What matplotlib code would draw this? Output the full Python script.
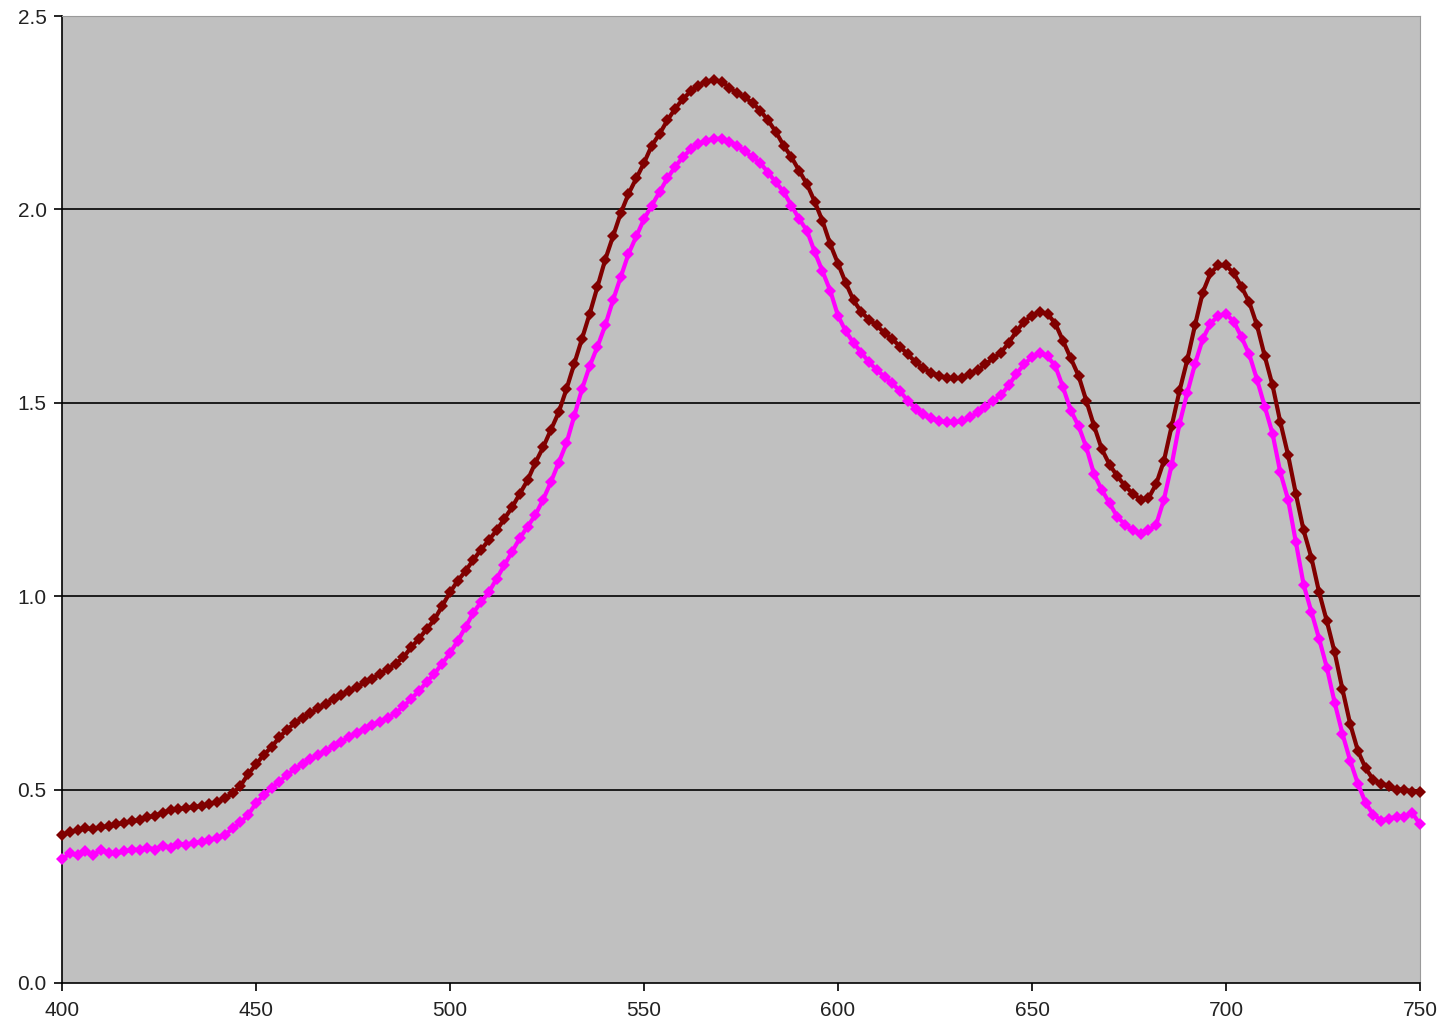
"""
Two absorption-like spectra (400-750 nm), Excel style scatter on grey background
"""
import numpy as np
import matplotlib
matplotlib.use("Agg")
import matplotlib.pyplot as plt

# wavelength grid, every 2 nm
wavelength = np.arange(400, 751, 2)

dark_red = [
    0.383, 0.390, 0.395, 0.400, 0.398, 0.403, 0.405, 0.410, 0.414, 0.418,
    0.422, 0.428, 0.433, 0.440, 0.447, 0.450, 0.452, 0.455, 0.458, 0.463,
    0.468, 0.478, 0.490, 0.510, 0.540, 0.565, 0.590, 0.610, 0.635, 0.655,
    0.672, 0.686, 0.698, 0.710, 0.722, 0.735, 0.745, 0.755, 0.765, 0.777,
    0.787, 0.800, 0.812, 0.826, 0.842, 0.868, 0.890, 0.915, 0.940, 0.975,
    1.010, 1.040, 1.065, 1.094, 1.120, 1.145, 1.170, 1.200, 1.230, 1.265,
    1.300, 1.345, 1.385, 1.430, 1.475, 1.535, 1.600, 1.665, 1.730, 1.800,
    1.870, 1.930, 1.990, 2.040, 2.080, 2.120, 2.165, 2.195, 2.230, 2.260,
    2.285, 2.305, 2.320, 2.330, 2.335, 2.330, 2.315, 2.300, 2.290, 2.275,
    2.255, 2.230, 2.200, 2.165, 2.135, 2.100, 2.065, 2.020, 1.970, 1.910,
    1.860, 1.810, 1.765, 1.735, 1.715, 1.700, 1.680, 1.665, 1.645, 1.625,
    1.605, 1.590, 1.578, 1.570, 1.565, 1.563, 1.565, 1.575, 1.585, 1.600,
    1.615, 1.630, 1.655, 1.685, 1.710, 1.725, 1.735, 1.730, 1.705, 1.660,
    1.615, 1.570, 1.505, 1.440, 1.380, 1.340, 1.310, 1.285, 1.265, 1.250,
    1.253, 1.290, 1.350, 1.440, 1.530, 1.610, 1.700, 1.785, 1.835, 1.855,
    1.855, 1.835, 1.800, 1.760, 1.700, 1.620, 1.545, 1.450, 1.365, 1.265,
    1.170, 1.100, 1.010, 0.935, 0.855, 0.760, 0.670, 0.600, 0.555, 0.525,
    0.515, 0.510, 0.500, 0.500, 0.495, 0.495,
]

magenta = [
    0.320, 0.335, 0.330, 0.340, 0.330, 0.345, 0.335, 0.335, 0.340, 0.345,
    0.344, 0.350, 0.345, 0.355, 0.350, 0.360, 0.358, 0.362, 0.365, 0.370,
    0.375, 0.383, 0.400, 0.415, 0.435, 0.465, 0.485, 0.505, 0.520, 0.538,
    0.553, 0.566, 0.578, 0.590, 0.600, 0.612, 0.624, 0.636, 0.647, 0.657,
    0.667, 0.676, 0.686, 0.698, 0.715, 0.735, 0.755, 0.778, 0.800, 0.826,
    0.853, 0.885, 0.920, 0.957, 0.985, 1.010, 1.045, 1.080, 1.115, 1.150,
    1.180, 1.210, 1.250, 1.295, 1.345, 1.395, 1.465, 1.535, 1.595, 1.645,
    1.700, 1.765, 1.825, 1.885, 1.930, 1.975, 2.010, 2.045, 2.080, 2.110,
    2.135, 2.155, 2.168, 2.178, 2.182, 2.183, 2.175, 2.165, 2.150, 2.135,
    2.120, 2.095, 2.070, 2.045, 2.010, 1.975, 1.945, 1.890, 1.840, 1.790,
    1.725, 1.685, 1.655, 1.630, 1.605, 1.585, 1.567, 1.550, 1.530, 1.505,
    1.485, 1.470, 1.460, 1.453, 1.450, 1.450, 1.452, 1.462, 1.475, 1.490,
    1.505, 1.520, 1.545, 1.575, 1.600, 1.618, 1.628, 1.620, 1.595, 1.540,
    1.480, 1.440, 1.385, 1.315, 1.275, 1.240, 1.205, 1.185, 1.170, 1.162,
    1.170, 1.185, 1.250, 1.340, 1.445, 1.525, 1.600, 1.665, 1.705, 1.725,
    1.730, 1.710, 1.670, 1.625, 1.560, 1.490, 1.420, 1.320, 1.250, 1.140,
    1.030, 0.960, 0.890, 0.815, 0.725, 0.645, 0.575, 0.515, 0.465, 0.435,
    0.420, 0.425, 0.430, 0.430, 0.440, 0.410,
]

x_ticks = [400, 450, 500, 550, 600, 650, 700, 750]
y_ticks = [0.0, 0.5, 1.0, 1.5, 2.0, 2.5]

DARK_RED = "#800000"
MAGENTA = "#FF00FF"

plt.rcParams["font.family"] = ["Liberation Sans", "DejaVu Sans"]

fig = plt.figure(figsize=(14.44, 10.32), dpi=100)
ax = fig.add_axes([62 / 1444, 49 / 1032, 1358 / 1444, 967 / 1032])
ax.set_facecolor("#C0C0C0")

for yv in y_ticks[1:-1]:
    ax.axhline(yv, color="black", lw=1.2, zorder=1)

ax.plot(wavelength, dark_red, color=DARK_RED, lw=3.0, marker="D",
        markersize=6.5, markeredgewidth=0, zorder=3, clip_on=False)
ax.plot(wavelength, magenta, color=MAGENTA, lw=3.0, marker="D",
        markersize=6.5, markeredgewidth=0, zorder=3, clip_on=False)

ax.set_xlim(400, 750)
ax.set_ylim(0, 2.5)
ax.set_xticks(x_ticks)
ax.set_yticks(y_ticks)
ax.set_yticklabels([f"{v:.1f}" for v in y_ticks])
ax.tick_params(axis="both", direction="out", length=6, width=1.2,
               labelsize=15, colors="black", labelcolor="#222222")
ax.tick_params(axis="x", pad=7)
ax.tick_params(axis="y", pad=5)

ax.spines["left"].set_color("black")
ax.spines["bottom"].set_color("black")
ax.spines["left"].set_linewidth(1.2)
ax.spines["bottom"].set_linewidth(1.2)
ax.spines["top"].set_color("#9A9A9A")
ax.spines["right"].set_color("#9A9A9A")

plt.savefig("out.png", dpi=100)
